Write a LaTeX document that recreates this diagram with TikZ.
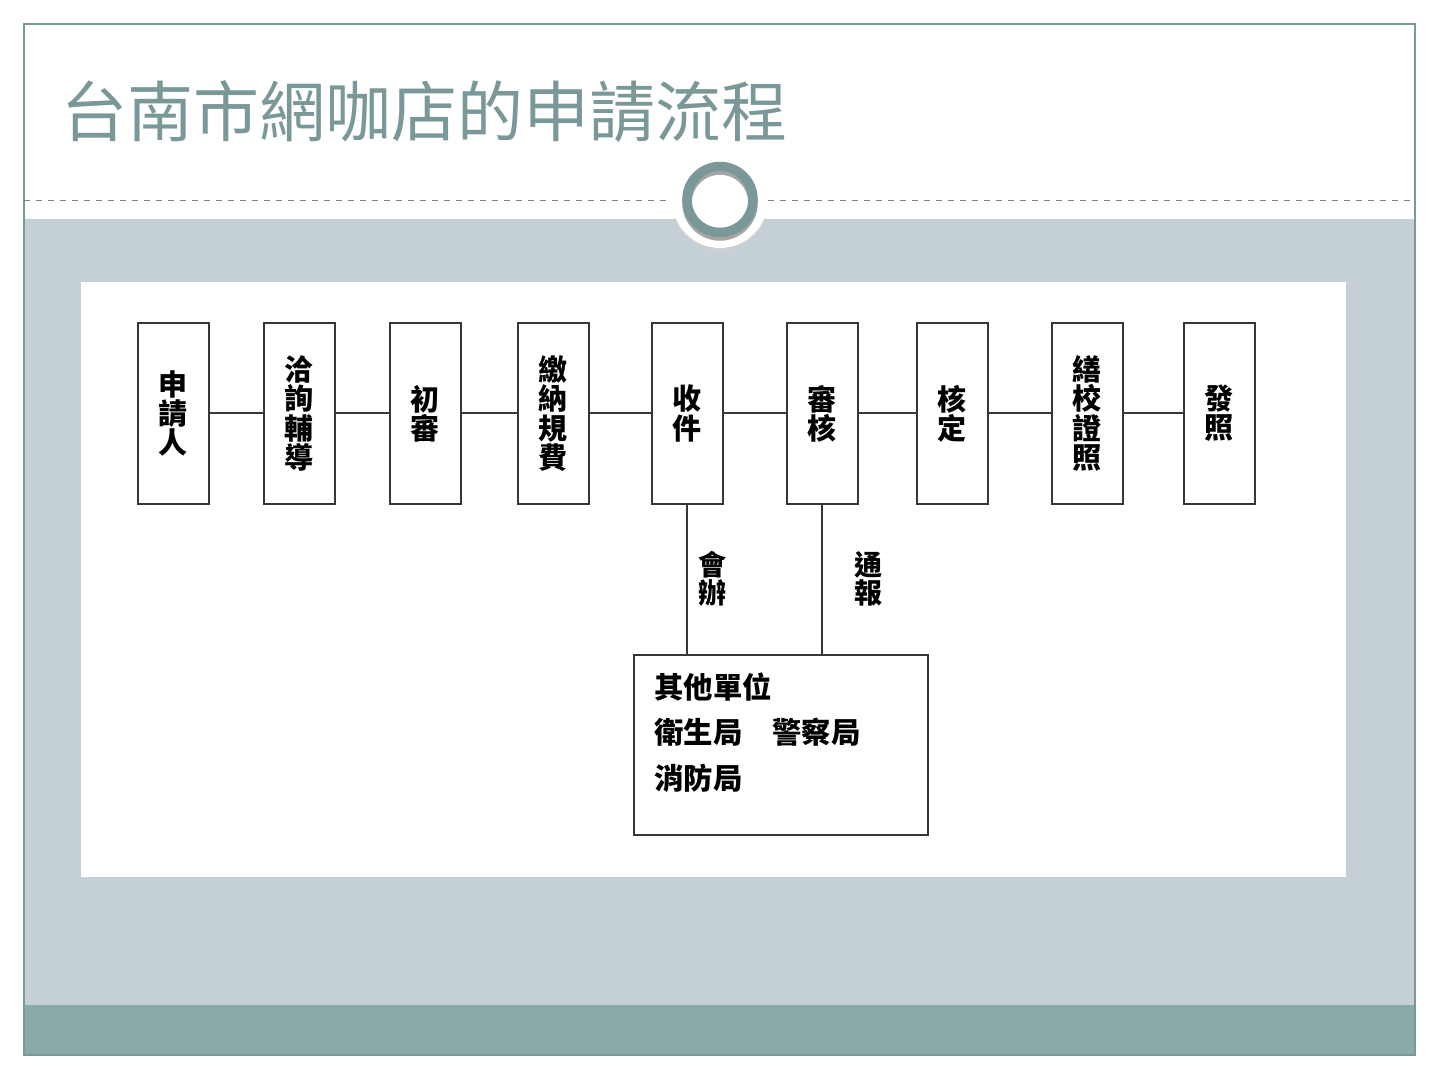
\documentclass[tikz,border=0pt]{standalone}
\usepackage{fontspec}
\newfontfamily\cjk{Noto Sans CJK TC}
\usepackage{xcolor}
\usepackage{tikz}
\usetikzlibrary{positioning, calc}

\definecolor{slideteal}{RGB}{122,152,152}
\definecolor{bandgray}{RGB}{197,208,214}
\definecolor{footteal}{RGB}{138,170,170}
\definecolor{inkgray}{RGB}{55,55,55}

\tikzset{
    stepbox/.style={draw=inkgray, line width=1pt, fill=white, minimum width=35.5pt,
        minimum height=90.5pt, inner sep=0pt, align=center,
        font=\cjk\bfseries\fontsize{14.5}{14.6}\selectfont},
    link/.style={draw=inkgray, line width=1pt},
    sidelabel/.style={align=center, inner sep=0pt,
        font=\cjk\bfseries\fontsize{14}{14}\selectfont}
}

\begin{document}
\begin{tikzpicture}[x=0.5pt,y=-0.5pt]

        \useasboundingbox (0,0) rectangle (1440,1080);

        %=====================
        % Slide background
        %=====================
        \fill[white] (0,0) rectangle (1440,1080);
        \fill[bandgray] (24,219) rectangle (1415,1005);
        \fill[footteal] (24,1005) rectangle (1415,1055);
        \draw[slideteal, line width=0.8pt] (24,24) rectangle (1415,1055);
        \draw[gray, dashed, line width=0.5pt] (24,201) -- (1415,201);

        % Ring on the divider
        \fill[white] (720,200) circle[radius=24pt];
        \draw[gray!35, line width=0.6pt] (720,202) ++(200:24pt) arc[start angle=200, end angle=340, radius=24pt];
        \draw[gray!70, line width=4.75pt] (720,203) circle[radius=16.5pt];
        \draw[slideteal, line width=4.75pt] (720,199.5) circle[radius=16.5pt];

        %=====================
        % Title
        %=====================
        \node[anchor=west, inner sep=0pt, text=slideteal,
            font=\cjk\fontsize{33}{33}\selectfont] (title) at (61,112)
        {台南市網咖店的申請流程};

        %=====================
        % Flow chart
        %=====================
        \fill[white] (81,282) rectangle (1346,877);

        \node[stepbox] (apply) at (173,413.5) {申\\請\\人};
        \node[stepbox] (consult) at (299,413.5) {洽\\詢\\輔\\導};
        \node[stepbox] (firstcheck) at (425,413.5) {初\\審};
        \node[stepbox] (payfee) at (553,413.5) {繳\\納\\規\\費};
        \node[stepbox] (receive) at (687,413.5) {收\\件};
        \node[stepbox] (review) at (822,413.5) {審\\核};
        \node[stepbox] (approve) at (952,413.5) {核\\定};
        \node[stepbox] (makecert) at (1087,413.5) {繕\\校\\證\\照};
        \node[stepbox] (issue) at (1219,413.5) {發\\照};

        \draw[link] (apply) -- (consult);
        \draw[link] (consult) -- (firstcheck);
        \draw[link] (firstcheck) -- (payfee);
        \draw[link] (payfee) -- (receive);
        \draw[link] (receive) -- (review);
        \draw[link] (review) -- (approve);
        \draw[link] (approve) -- (makecert);
        \draw[link] (makecert) -- (issue);

        % Other agencies
        \node[draw=inkgray, line width=1pt, minimum width=147pt, minimum height=90pt,
            inner sep=0pt] (other) at (781,745) {};
        \node[anchor=north west, align=left, inner sep=0pt,
            font=\cjk\bfseries\fontsize{14.7}{22.75}\selectfont] (othertext) at (654,672)
        {其他單位\\衛生局\hspace{15pt}警察局\\消防局};

        \draw[link] (receive.south) -- (receive.south |- other.north);
        \draw[link] (review.south) -- (review.south |- other.north);

        \node[sidelabel] (cojoint) at (712,579) {會\\辦};
        \node[sidelabel] (notify) at (868,579) {通\\報};

    \end{tikzpicture}
\end{document}
